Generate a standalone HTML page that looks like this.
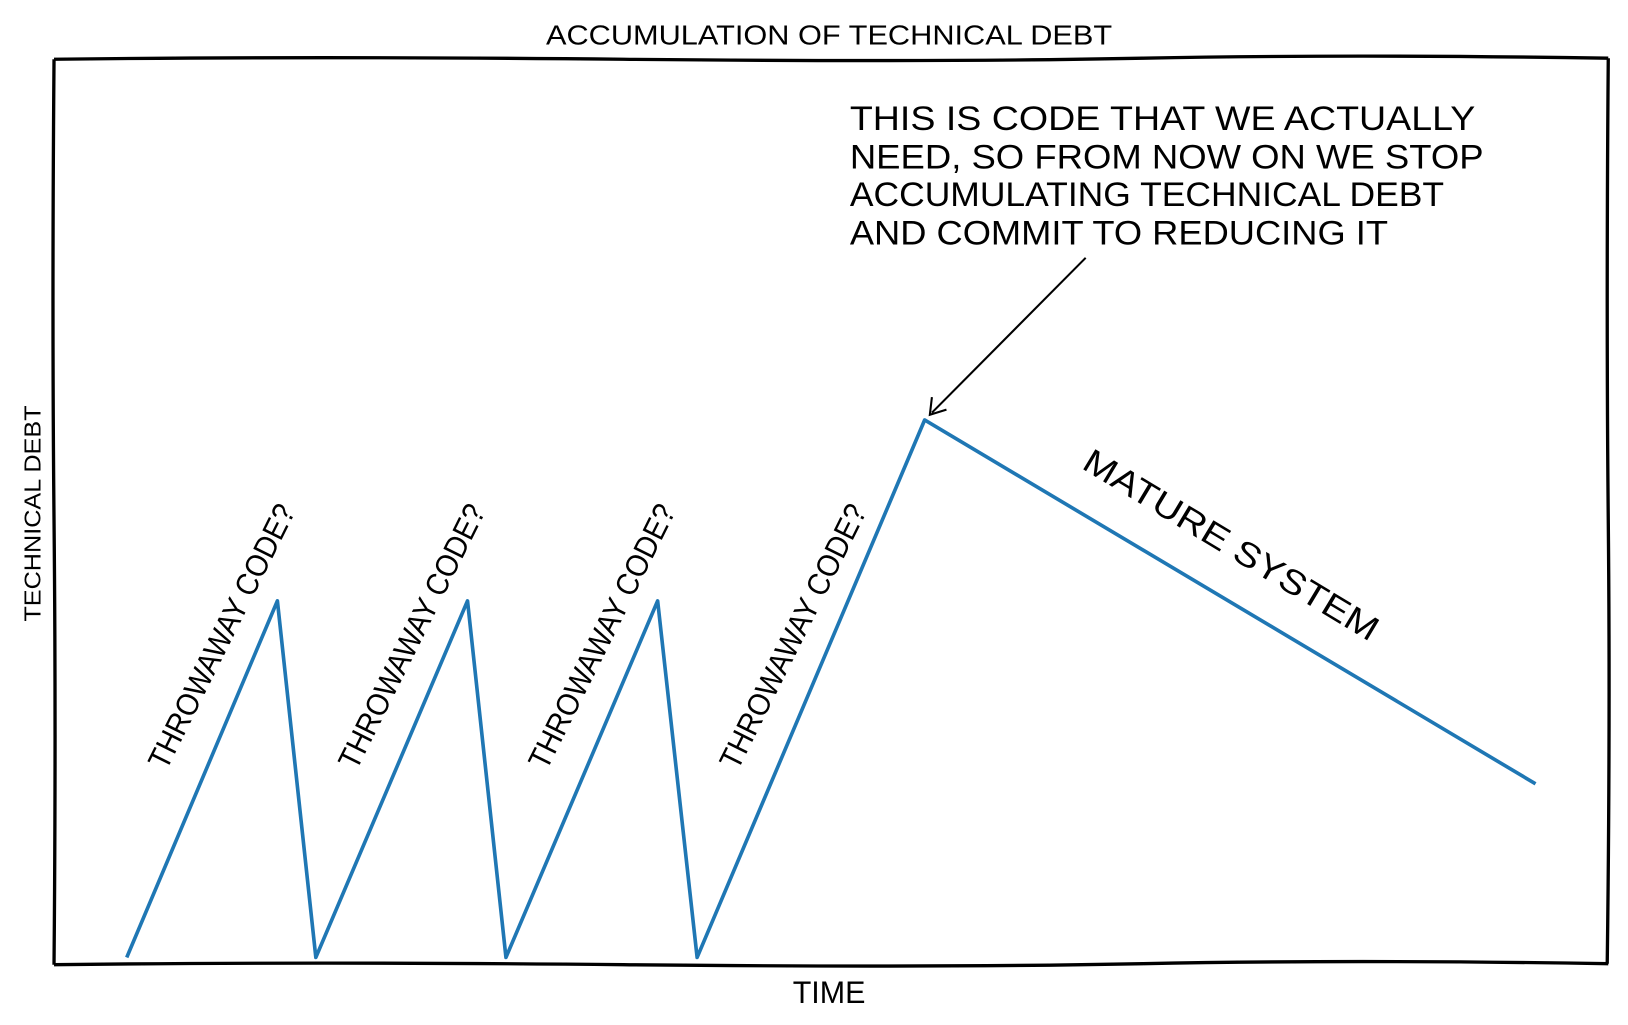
<!DOCTYPE html>
<html><head><meta charset="utf-8"><style>
html,body{margin:0;padding:0;background:#fff;}
svg{display:block;}
text{font-family:"Liberation Sans",sans-serif;fill:#000;}
</style></head><body>
<svg width="1628" height="1025" viewBox="0 0 1567 986" preserveAspectRatio="none" xmlns="http://www.w3.org/2000/svg">
<rect width="1567" height="986" fill="#fff"/>
<!-- frame -->
<path d="M52,57 Q300,54 600,57 T1100,56 T1548,56" fill="none" stroke="#000" stroke-width="3.2"/>
<path d="M52,928 Q300,925 600,928 T1100,927 T1548,927" fill="none" stroke="#000" stroke-width="3.2"/>
<path d="M52,57 Q50,300 52,500 T52,928" fill="none" stroke="#000" stroke-width="3.2"/>
<path d="M1548,56 Q1546,300 1548,500 T1547,927" fill="none" stroke="#000" stroke-width="3.2"/>
<!-- title -->
<text x="798" y="43" font-size="27" text-anchor="middle" textLength="545" lengthAdjust="spacingAndGlyphs">ACCUMULATION OF TECHNICAL DEBT</text>
<text x="798" y="965" font-size="30" text-anchor="middle" textLength="70" lengthAdjust="spacingAndGlyphs">TIME</text>
<text transform="translate(39,598) rotate(-90)" font-size="22" textLength="208" lengthAdjust="spacingAndGlyphs">TECHNICAL DEBT</text>
<!-- data line -->
<polyline points="122,921 267,578 304,921 450,578 487,921 633,578 671,921 890,404 1478,754" fill="none" stroke="#1f77b4" stroke-width="3.5" stroke-linejoin="round"/>
<!-- annotation -->
<g font-size="33">
<text x="818" y="125" textLength="602" lengthAdjust="spacingAndGlyphs">THIS IS CODE THAT WE ACTUALLY</text>
<text x="818" y="162" textLength="610" lengthAdjust="spacingAndGlyphs">NEED, SO FROM NOW ON WE STOP</text>
<text x="818" y="198" textLength="572" lengthAdjust="spacingAndGlyphs">ACCUMULATING TECHNICAL DEBT</text>
<text x="818" y="235" textLength="518" lengthAdjust="spacingAndGlyphs">AND COMMIT TO REDUCING IT</text>
</g>
<line x1="1045" y1="248" x2="897" y2="397" stroke="#000" stroke-width="2"/>
<polyline points="897,382 895,399 911,394" fill="none" stroke="#000" stroke-width="2"/>
<!-- rotated labels -->
<g font-size="30">
<text transform="translate(160,742) rotate(-63.5)" textLength="280" lengthAdjust="spacingAndGlyphs">THROWAWAY CODE?</text>
<text transform="translate(343,742) rotate(-63.5)" textLength="280" lengthAdjust="spacingAndGlyphs">THROWAWAY CODE?</text>
<text transform="translate(526,742) rotate(-63.5)" textLength="280" lengthAdjust="spacingAndGlyphs">THROWAWAY CODE?</text>
<text transform="translate(710,742) rotate(-63.5)" textLength="280" lengthAdjust="spacingAndGlyphs">THROWAWAY CODE?</text>
</g>
<text transform="translate(1040,450) rotate(31)" font-size="33" textLength="325" lengthAdjust="spacingAndGlyphs">MATURE SYSTEM</text>
</svg>
</body></html>
